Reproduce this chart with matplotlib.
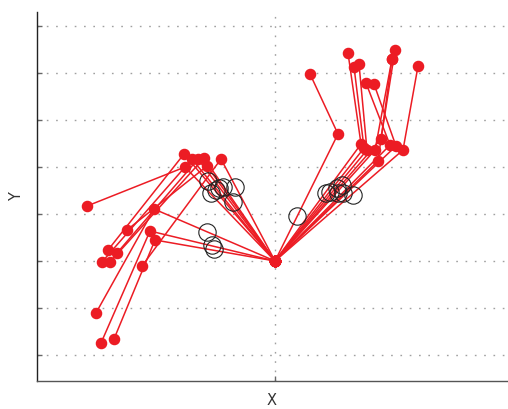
import matplotlib
matplotlib.use("Agg")
import matplotlib.pyplot as plt
import numpy as np

# Displacement chains: origin -> first step -> second step
step1_x = [-1.936, -1.766, -1.638, -1.511, -1.149, -1.915, -1.447, -2.574, -2.660, -2.553,
           1.340, 1.830, 1.894, 1.957, 2.447, 2.574, 2.128, 2.255, 2.723, 2.191]
step1_y = [2.277, 2.170, 2.170, 2.191, 2.170, 2.000, 2.021, 1.106, 0.638, 0.447,
           2.702, 2.489, 2.404, 2.362, 2.468, 2.447, 2.362, 2.596, 2.362, 2.128]
step2_x = [-3.553, -3.681, -3.362, -3.511, -2.830, -4.000, -3.149, -3.809, -3.702, -3.426,
           0.745, 1.553, 1.681, 1.787, 1.936, 2.106, 2.489, 2.553, 3.043, 2.489]
step2_y = [0.234, -0.021, 0.170, -0.021, -0.106, 1.170, 0.660, -1.106, -1.745, -1.660,
           3.979, 4.426, 4.128, 4.191, 3.787, 3.766, 4.298, 4.489, 4.149, 4.298]

# Open circle markers
circ_x = [-1.426, -1.362, -1.255, -1.191, -1.106, -0.851, -0.894, -1.447, -1.340, -1.298,
          0.468, 1.085, 1.170, 1.319, 1.426, 1.447, 1.340, 1.660]
circ_y = [1.702, 1.447, 1.511, 1.553, 1.574, 1.574, 1.255, 0.617, 0.340, 0.255,
          0.957, 1.447, 1.468, 1.553, 1.617, 1.447, 1.447, 1.404]

origin = (0.0, 0.0)
y_ticks = [-2, -1, 0, 1, 2, 3, 4, 5]
x_ticks = [0]

red = "#ec1c24"

fig = plt.figure(figsize=(5.08, 4.09), dpi=100)
ax = fig.add_axes([37/508, 1 - 381/409, 470/508, 369/409])

for x1, y1, x2, y2 in zip(step1_x, step1_y, step2_x, step2_y):
    ax.plot([origin[0], x1, x2], [origin[1], y1, y2], color=red, lw=1.1,
            marker="o", ms=7.3, mfc=red, mec=red, zorder=3)

ax.plot(circ_x, circ_y, linestyle="none", marker="o", ms=12.5, mfc="none",
        mec="#222222", mew=0.8, zorder=4)

ax.set_xlim(-5.064, 4.936)
ax.set_ylim(-2.553, 5.298)
ax.set_yticks(y_ticks)
ax.set_xticks(x_ticks)
ax.set_yticklabels([])
ax.set_xticklabels([])
ax.tick_params(direction="in", length=3.5, width=1.0, color="#666666")
ax.grid(True, color="#a0a0a0", linestyle=(0, (1.2, 5.5)), linewidth=1.0)
ax.set_axisbelow(True)

for s in ["top", "right"]:
    ax.spines[s].set_visible(False)
ax.spines["left"].set_color("#222222")
ax.spines["bottom"].set_color("#555555")
ax.spines["left"].set_linewidth(1.0)
ax.spines["bottom"].set_linewidth(1.0)

ax.set_xlabel("X", fontsize=10.5, color="#333333", family="DejaVu Sans", labelpad=5)
ax.set_ylabel("Y", fontsize=10.5, color="#333333", family="DejaVu Sans", labelpad=6)

fig.savefig("out.png", dpi=100)
